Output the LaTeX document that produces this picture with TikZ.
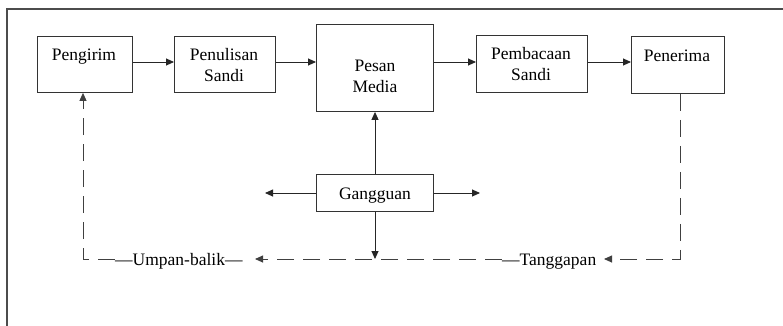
\documentclass[tikz,border=0pt]{standalone}
\usepackage{fontspec}
\setmainfont{Liberation Serif}
\usetikzlibrary{arrows.meta}
\begin{document}
\begin{tikzpicture}[x=1pt,y=-1pt,
  every node/.style={font=\fontsize{17.5}{21}\selectfont, inner sep=0pt},
  box/.style={draw=black!80, line width=0.9pt, anchor=north west},
  lbl/.style={anchor=base, align=center},
  flow/.style={draw=black!85, line width=0.9pt, -{Triangle[length=8pt,width=7pt]}},
  back/.style={draw=black!75, line width=0.9pt, dash pattern=on 17pt off 9pt},
  backarrow/.style={back, -{Triangle[length=8pt,width=7pt]}}]
  \useasboundingbox (0,0) rectangle (783,325);
  \fill[white] (0,0) rectangle (783,325);
  % outer frame
  \draw[black!70, line width=1.6pt] (7,330) -- (7,9) -- (790,9);

  % boxes
  \node[box, minimum width=95pt, minimum height=56pt] (pengirim) at (37,36) {};
  \node[box, minimum width=101pt, minimum height=56pt] (penulisan) at (174,36) {};
  \node[box, minimum width=117pt, minimum height=87pt] (pesan) at (316,24) {};
  \node[box, minimum width=111pt, minimum height=57pt] (pembacaan) at (476,35) {};
  \node[box, minimum width=93pt, minimum height=57pt] (penerima) at (631,36) {};
  \node[box, minimum width=117pt, minimum height=37pt] (gangguan) at (316,174) {};

  % box texts (base anchor sits on the last line)
  \node[lbl] (tpengirim) at (84,60) {Pengirim};
  \node[lbl] (tpenulisan) at (224,81) {Penulisan\\Sandi};
  \node[lbl] (tpesan) at (375,92) {Pesan\\Media};
  \node[lbl] (tpembacaan) at (531,80) {Pembacaan\\Sandi};
  \node[lbl] (tpenerima) at (677,61) {Penerima};
  \node[lbl] (tgangguan) at (375,199) {Gangguan};

  % feedback labels
  \node[lbl, anchor=base west] (umpan) at (115,265) {—Umpan-balik—};
  \node[lbl, anchor=base west] (tanggap) at (502,265) {—Tanggapan};

  % helper points
  \coordinate (gl) at (265,193);
  \coordinate (gr) at (480,193);
  \coordinate (gd) at (375,259);
  \coordinate (rc) at (680,259);
  \coordinate (lc) at (83,259);
  \coordinate (ta) at (604,259);
  \coordinate (ua) at (255,259);
  \coordinate (tl) at (502,259);
  \coordinate (ul) at (115,259);

  % main flow
  \draw[flow] (pengirim.east |- 0,62) -- (penulisan.west |- 0,62);
  \draw[flow] (penulisan.east |- 0,62) -- (pesan.west |- 0,62);
  \draw[flow] (pesan.east |- 0,62) -- (pembacaan.west |- 0,62);
  \draw[flow] (pembacaan.east |- 0,62) -- (penerima.west |- 0,62);

  % noise
  \draw[flow] (gangguan.north -| 375,0) -- (pesan.south -| 375,0);
  \draw[flow] (gangguan.west |- gl) -- (gl);
  \draw[flow] (gangguan.east |- gr) -- (gr);
  \draw[flow] (gangguan.south -| gd) -- (gd);

  % feedback loop
  \draw[backarrow] (penerima.south -| rc) -- (rc) -- (ta);
  \draw[backarrow] (tl) -- (ua);
  \draw[backarrow] (ul) -- (lc) -- (pengirim.south -| lc);
\end{tikzpicture}
\end{document}
